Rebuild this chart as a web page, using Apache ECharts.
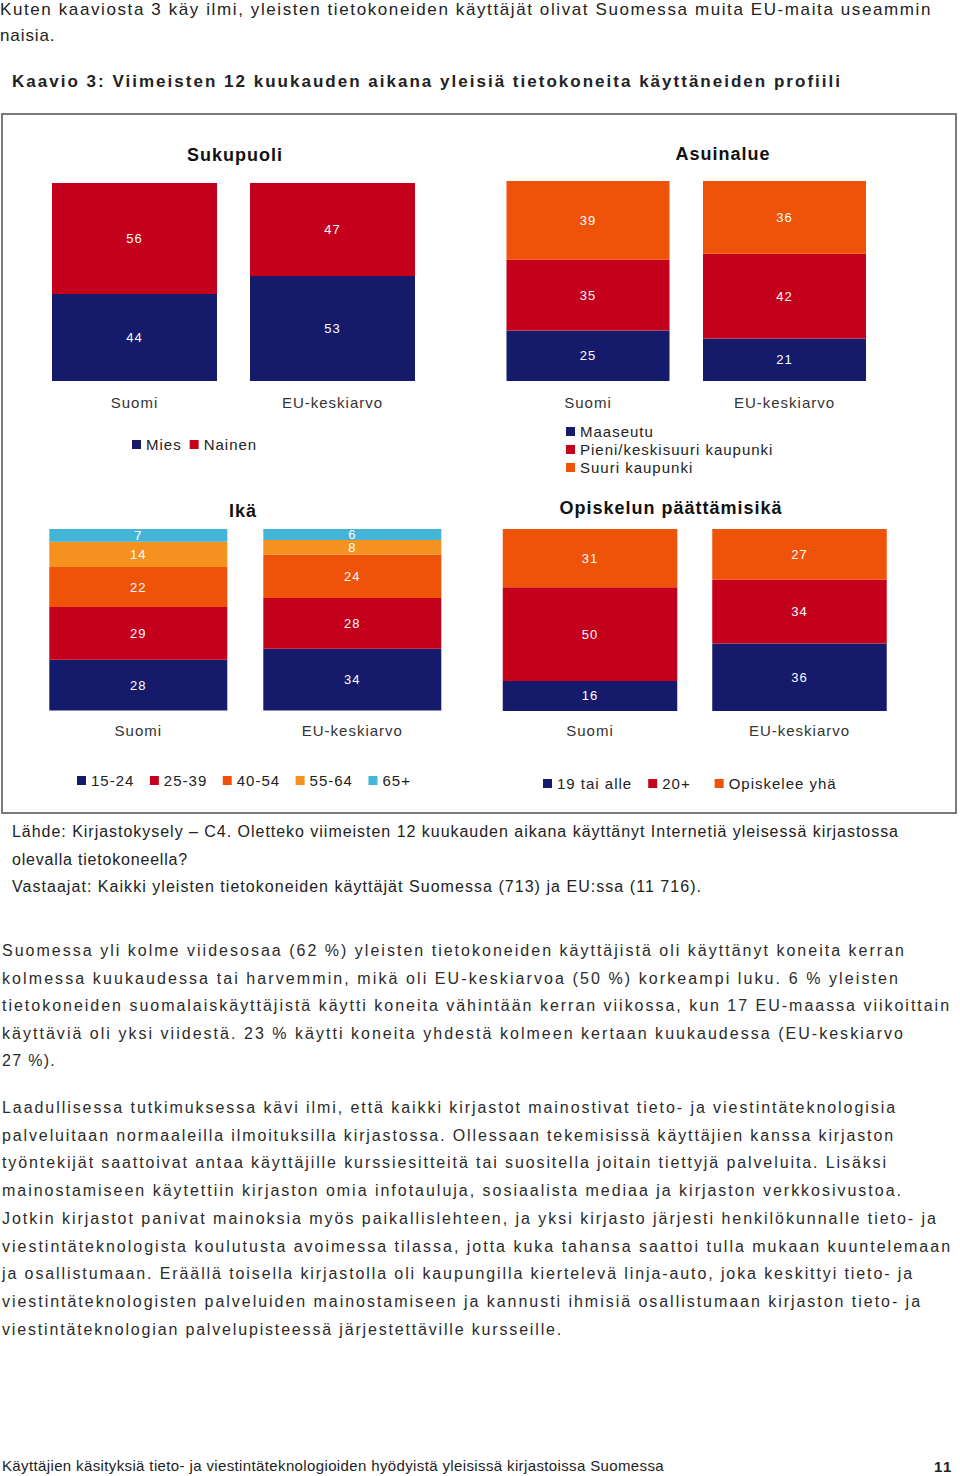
<!DOCTYPE html>
<html><head><meta charset="utf-8">
<script src="https://cdn.jsdelivr.net/npm/echarts@6/dist/echarts.min.js"></script>
<style>
html,body{margin:0;padding:0;background:#fff;}
#page{position:relative;width:960px;height:1476px;overflow:hidden;background:#fff;}
#chart{position:absolute;left:0;top:0;width:960px;height:1476px;}
#chart svg text{letter-spacing:1px;}
.t{position:absolute;white-space:nowrap;line-height:20px;height:20px;margin-top:-10px;color:#222;}
.n{font-family:"Liberation Sans Narrow","Liberation Sans",Arial,sans-serif;font-size:17px;}
.r{font-family:"Liberation Sans",Arial,sans-serif;font-size:16px;color:#2b2b2b;}
.b{font-weight:bold;}
</style></head>
<body><div id="page"><div id="chart"></div><div id="texts"></div></div>
<script>
// ---------- data ----------
const categories = ['Suomi', 'EU-keskiarvo'];
const genderNames = ['Mies', 'Nainen'];
const genderValues = [[44, 53], [56, 47]];
const areaNames = ['Maaseutu', 'Pieni/keskisuuri kaupunki', 'Suuri kaupunki'];
const areaValues = [[25, 21], [35, 42], [39, 36]];
const ageNames = ['15-24', '25-39', '40-54', '55-64', '65+'];
const ageValues = [[28, 34], [29, 28], [22, 24], [14, 8], [7, 6]];
const eduNames = ['19 tai alle', '20+', 'Opiskelee yhä'];
const eduValues = [[16, 36], [50, 34], [31, 27]];
const panelTitles = ['Sukupuoli', 'Asuinalue', 'Ikä', 'Opiskelun päättämisikä'];

const introLines = [
  'Kuten kaaviosta 3 käy ilmi, yleisten tietokoneiden käyttäjät olivat Suomessa muita EU-maita useammin',
  'naisia.'
];
const chartTitle = 'Kaavio 3: Viimeisten 12 kuukauden aikana yleisiä tietokoneita käyttäneiden profiili';
const sourceLines = [
  'Lähde: Kirjastokysely – C4. Oletteko viimeisten 12 kuukauden aikana käyttänyt Internetiä yleisessä kirjastossa',
  'olevalla tietokoneella?',
  'Vastaajat: Kaikki yleisten tietokoneiden käyttäjät Suomessa (713) ja EU:ssa (11 716).'
];
const para1 = [
  'Suomessa yli kolme viidesosaa (62 %) yleisten tietokoneiden käyttäjistä oli käyttänyt koneita kerran',
  'kolmessa kuukaudessa tai harvemmin, mikä oli EU-keskiarvoa (50 %) korkeampi luku. 6 % yleisten',
  'tietokoneiden suomalaiskäyttäjistä käytti koneita vähintään kerran viikossa, kun 17 EU-maassa viikoittain',
  'käyttäviä oli yksi viidestä. 23 % käytti koneita yhdestä kolmeen kertaan kuukaudessa (EU-keskiarvo',
  '27 %).'
];
const para2 = [
  'Laadullisessa tutkimuksessa kävi ilmi, että kaikki kirjastot mainostivat tieto- ja viestintäteknologisia',
  'palveluitaan normaaleilla ilmoituksilla kirjastossa. Ollessaan tekemisissä käyttäjien kanssa kirjaston',
  'työntekijät saattoivat antaa käyttäjille kurssiesitteitä tai suositella joitain tiettyjä palveluita. Lisäksi',
  'mainostamiseen käytettiin kirjaston omia infotauluja, sosiaalista mediaa ja kirjaston verkkosivustoa.',
  'Jotkin kirjastot panivat mainoksia myös paikallislehteen, ja yksi kirjasto järjesti henkilökunnalle tieto- ja',
  'viestintäteknologista koulutusta avoimessa tilassa, jotta kuka tahansa saattoi tulla mukaan kuuntelemaan',
  'ja osallistumaan. Eräällä toisella kirjastolla oli kaupungilla kiertelevä linja-auto, joka keskittyi tieto- ja',
  'viestintäteknologisten palveluiden mainostamiseen ja kannusti ihmisiä osallistumaan kirjaston tieto- ja',
  'viestintäteknologian palvelupisteessä järjestettäville kursseille.'
];
const footerText = 'Käyttäjien käsityksiä tieto- ja viestintäteknologioiden hyödyistä yleisissä kirjastoissa Suomessa';
const pageNumber = '11';

// ---------- page text layout ----------
const texts = document.getElementById('texts');
function addLine(str, x, y, cls, target) {
  const d = document.createElement('div');
  d.className = 't ' + cls;
  d.textContent = str;
  d.style.left = x + 'px';
  d.style.top = y + 'px';
  texts.appendChild(d);
  if (target) {
    const w = d.getBoundingClientRect().width;
    const ls = (target - w) / str.length;
    d.style.letterSpacing = ls.toFixed(3) + 'px';
  } else {
    d.style.letterSpacing = '1.2px';
  }
  return d;
}
addLine(introLines[0], 0, 10, 'n', 932);
addLine(introLines[1], 0, 36, 'n', 0).style.letterSpacing = '0.9px';
addLine(chartTitle, 12, 82, 'n b', 830);
const srcW = [887, 176, 690];
sourceLines.forEach((s, i) => addLine(s, 12, 832 + i * 27.5, 'n', srcW[i]).style.fontSize = '16px');
// refit source lines after font change
Array.from(texts.children).slice(3, 6).forEach((d, i) => {
  d.style.letterSpacing = '0px';
  const w = d.getBoundingClientRect().width;
  d.style.letterSpacing = ((srcW[i] - w) / d.textContent.length).toFixed(3) + 'px';
});
const p1W = [904, 898, 949, 903, 0];
para1.forEach((s, i) => {
  const d = addLine(s, 2, 951 + i * 27.6, 'r', p1W[i]);
  if (!p1W[i]) d.style.letterSpacing = '1.3px';
});
const p2W = [895, 893, 886, 901, 936, 950, 912, 920, 561];
para2.forEach((s, i) => addLine(s, 2, 1108 + i * 27.7, 'r', p2W[i]));
const f = addLine(footerText, 2, 1466, 'n', 662);
f.style.fontSize = '15px';
f.style.letterSpacing = '0px';
f.style.letterSpacing = ((662 - f.getBoundingClientRect().width) / footerText.length).toFixed(3) + 'px';
const pn = addLine(pageNumber, 934, 1467, 'n b', 0);
pn.style.fontSize = '15px';
pn.style.letterSpacing = '1.5px';

// ---------- chart ----------
const NAVY = '#151a6a', RED = '#c5001c', ORANGE = '#ef5209', LORANGE = '#f5911f', CYAN = '#44b5d6';
const panels = [
  { names: genderNames, values: genderValues, colors: [NAVY, RED], grid: { left: 35.5, top: 183, width: 396, height: 198 }, barWidth: 165, margin: 14 },
  { names: areaNames, values: areaValues, colors: [NAVY, RED, ORANGE], grid: { left: 489.75, top: 181, width: 393, height: 200 }, barWidth: 163, margin: 14 },
  { names: ageNames, values: ageValues, colors: [NAVY, RED, ORANGE, LORANGE, CYAN], grid: { left: 31.3, top: 529, width: 428, height: 181.5 }, barWidth: 178, margin: 12 },
  { names: eduNames, values: eduValues, colors: [NAVY, RED, ORANGE], grid: { left: 485.25, top: 529, width: 419, height: 182 }, barWidth: 174.5, margin: 12 }
];
const font = '"Liberation Sans", Arial, sans-serif';
const grids = [], xAxes = [], yAxes = [], series = [];
panels.forEach((p, gi) => {
  grids.push(p.grid);
  xAxes.push({
    type: 'category', gridIndex: gi, data: categories,
    axisLine: { show: false }, axisTick: { show: false },
    axisLabel: { fontSize: 15, color: '#333', margin: p.margin, fontFamily: font }
  });
  const total = Math.max(...categories.map((c, ci) => p.values.reduce((s, v) => s + v[ci], 0)));
  yAxes.push({ type: 'value', gridIndex: gi, min: 0, max: total, show: false });
  p.names.forEach((n, si) => {
    series.push({
      type: 'bar', name: n, stack: 'p' + gi, xAxisIndex: gi, yAxisIndex: gi,
      data: p.values[si], barWidth: p.barWidth,
      itemStyle: { color: p.colors[si] },
      label: { show: true, position: 'inside', color: '#fff', fontSize: 13, fontFamily: font },
      emphasis: { disabled: true }
    });
  });
});

const legendText = { fontSize: 15, color: '#222', fontFamily: font };
const legends = [
  { data: genderNames, left: 127, top: 432, itemGap: 12 },
  { data: areaNames, left: 561, top: 419, orient: 'vertical', itemGap: 3 },
  { data: ageNames, left: 72, top: 768, itemGap: 20.5 },
  { data: eduNames, left: 538, top: 771, itemGap: 27 }
].map(l => Object.assign({
  itemWidth: 9, itemHeight: 9, icon: 'rect', textStyle: legendText,
  selectedMode: false, itemStyle: { borderWidth: 0 }
}, l));

const titlePos = [[235, 155], [723, 154], [243, 511], [671, 508]];
const graphics = [
  { type: 'rect', shape: { x: 2, y: 114, width: 954, height: 699 }, style: { fill: 'none', stroke: '#7a7a7a', lineWidth: 2 }, silent: true }
].concat(panelTitles.map((t, i) => ({
  type: 'text', x: titlePos[i][0], y: titlePos[i][1], silent: true,
  style: { text: t, fill: '#111', font: 'bold 18px ' + font, textAlign: 'center', textVerticalAlign: 'middle' }
})));

const chart = echarts.init(document.getElementById('chart'), null, { renderer: 'svg' });
chart.setOption({
  animation: false,
  backgroundColor: 'transparent',
  grid: grids, xAxis: xAxes, yAxis: yAxes, series: series,
  legend: legends,
  graphic: graphics
});
</script></body></html>
